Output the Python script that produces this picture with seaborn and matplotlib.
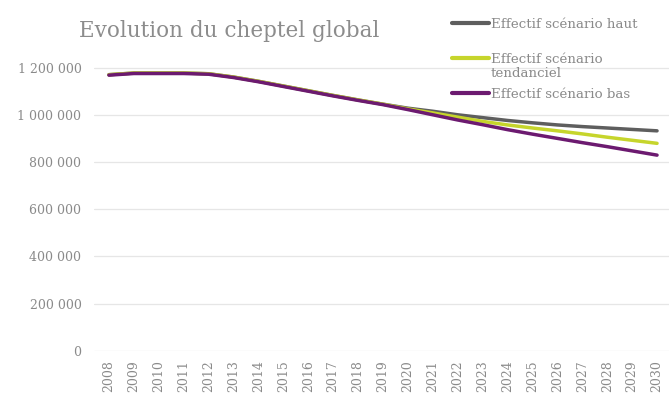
import matplotlib
matplotlib.use("Agg")
import matplotlib.pyplot as plt
from matplotlib.lines import Line2D
from matplotlib.ticker import FuncFormatter
import seaborn as sns
import pandas as pd

years = list(range(2008, 2031))
haut = [1170000, 1177000, 1177000, 1177000, 1174000, 1160000, 1142000, 1122000,
        1102000, 1082000, 1063000, 1045000, 1028000, 1015000, 1000000, 988000,
        976000, 966000, 957000, 950000, 944000, 938000, 932000]
tendanciel = [1170000, 1177000, 1177000, 1177000, 1174000, 1160000, 1142000, 1122000,
              1102000, 1082000, 1063000, 1045000, 1025000, 1008000, 990000, 972000,
              957000, 944000, 932000, 919000, 905000, 892000, 879000]
bas = [1168000, 1175000, 1175000, 1175000, 1172000, 1158000, 1140000, 1120000,
       1100000, 1080000, 1061000, 1043000, 1022000, 1000000, 978000, 958000,
       937000, 918000, 900000, 882000, 865000, 847000, 829000]
series_names = ["Effectif scénario haut", "Effectif scénario\ntendanciel", "Effectif scénario bas"]
y_ticks = [0, 200000, 400000, 600000, 800000, 1000000, 1200000]
colors = ["#5e5e5e", "#c6d52c", "#6c1a70"]

df = pd.concat([
    pd.DataFrame({"pos": range(len(years)), "valeur": vals, "serie": name})
    for name, vals in zip(series_names, [haut, tendanciel, bas])
])

sns.set_theme(style="white")
plt.rcParams["font.family"] = ["DejaVu Serif"]

fig = plt.figure(figsize=(6.69, 3.96), dpi=100)
ax = fig.add_axes([0.1405, 0.1144, 0.8595, 0.834])

sns.lineplot(data=df, x="pos", y="valeur", hue="serie", palette=colors,
             hue_order=series_names, linewidth=2.5, ax=ax, legend=False)

ax.set_xlim(-0.6, 22.48)
ax.set_ylim(0, 1400000)
ax.set_yticks(y_ticks)
ax.yaxis.set_major_formatter(FuncFormatter(lambda v, _: f"{v:,.0f}".replace(",", " ")))
ax.set_xticks(range(len(years)))
ax.set_xticklabels([str(y) for y in years], rotation=90, va="top")
ax.tick_params(axis="both", colors="#8a8a8a", labelsize=9, length=0)
ax.tick_params(axis="y", pad=9)
ax.tick_params(axis="x", pad=7)
ax.grid(axis="y", color="#e6e6e6", linewidth=0.9)
ax.set_axisbelow(True)
for s in ax.spines.values():
    s.set_visible(False)
ax.set_xlabel("")
ax.set_ylabel("")

fig.text(79 / 669, 1 - 37 / 396, "Evolution du cheptel global", ha="left", va="baseline",
         fontsize=15.5, color="#8c8c8c")

# Legend drawn as line samples with labels, top right over the plot
legend_rows = [23, 58, 93]
for name, col, row in zip(series_names, colors, legend_rows):
    yf = 1 - row / 396
    fig.add_artist(Line2D([452 / 669, 489 / 669], [yf, yf], color=col, linewidth=3,
                          transform=fig.transFigure))
    fig.text(491 / 669, yf + 5 / 396, name, ha="left", va="top", fontsize=9.6,
             color="#8a8a8a", linespacing=1.15)

fig.savefig("out.png", dpi=100, facecolor="white")
